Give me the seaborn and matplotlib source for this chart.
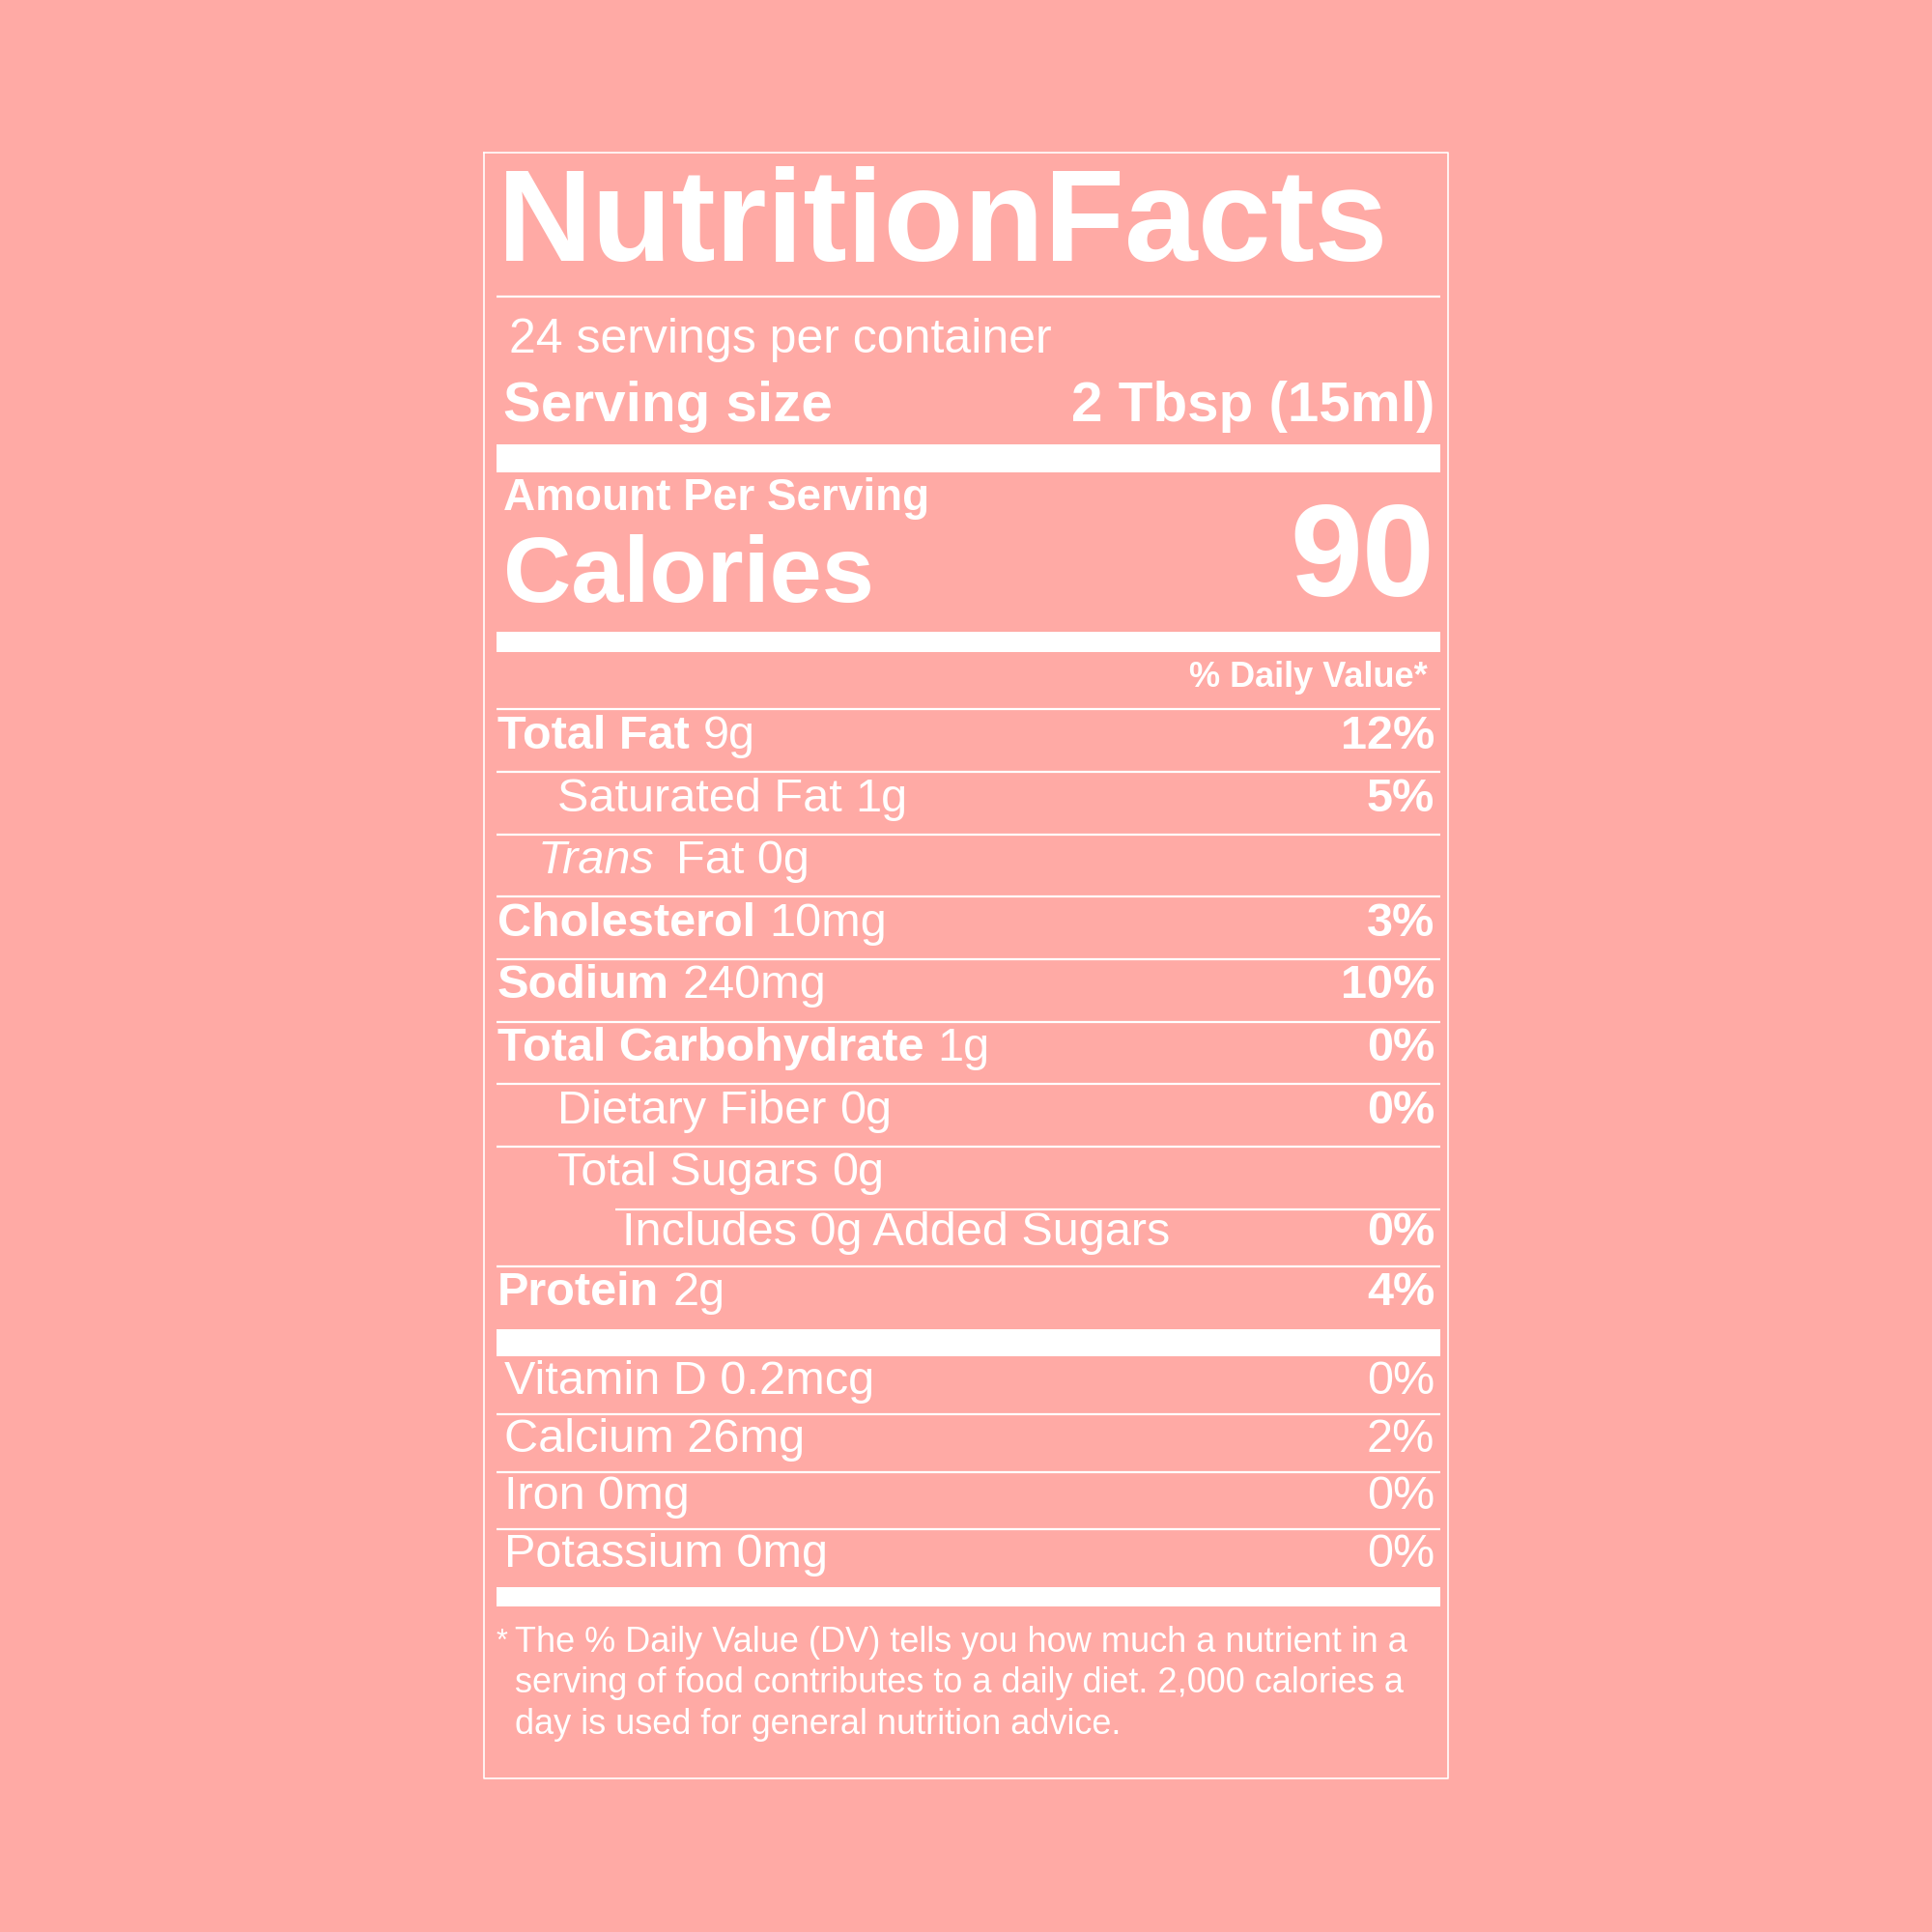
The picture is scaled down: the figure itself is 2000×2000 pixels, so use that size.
import matplotlib.pyplot as plt
import seaborn as sns

sns.set_theme(style="white", rc={"font.family": "Liberation Sans"})

BG = "#FFAAA5"
FG = "white"

servings = "24 servings per container"
serving_size = "2 Tbsp (15ml)"
calories = "90"

names = ["Total Fat", "Saturated Fat", "Trans", "Cholesterol", "Sodium",
         "Total Carbohydrate", "Dietary Fiber", "Total Sugars", "Includes 0g Added Sugars", "Protein"]
amounts = ["9g", "1g", "Fat 0g", "10mg", "240mg", "1g", "0g", "0g", "", "2g"]
daily = ["12%", "5%", "", "3%", "10%", "0%", "0%", "", "0%", "4%"]

vitamins = ["Vitamin D 0.2mcg", "Calcium 26mg", "Iron 0mg", "Potassium 0mg"]
vitamin_dv = ["0%", "2%", "0%", "0%"]

footnote = ["The % Daily Value (DV) tells you how much a nutrient in a",
            "serving of food contributes to a daily diet. 2,000 calories a",
            "day is used for general nutrition advice."]

# layout / style per nutrient row
name_style = ["bold", "normal", "italic", "bold", "bold", "bold", "normal", "normal", "normal", "bold"]
indent_x = [515, 577, 557, 515, 515, 515, 577, 577, 644, 515]
row_base = [775, 840, 904, 969, 1033, 1098, 1163, 1227, 1289, 1351]
row_lines = [734, 799, 864, 928, 993, 1058, 1122, 1187, 1252, 1311]
line_start = [514, 514, 514, 514, 514, 514, 514, 514, 637, 514]

fig = plt.figure(figsize=(20, 20), dpi=100, facecolor=BG)
ax = fig.add_axes([0, 0, 1, 1])
ax.set_facecolor(BG)
ax.set_xlim(0, 2000)
ax.set_ylim(2000, 0)
ax.axis("off")

L, R = 514, 1491


def rule(y, x0=L, lw=1.6):
    ax.plot([x0, R], [y, y], color=FG, lw=lw, solid_capstyle="butt")


def bar(y0, y1):
    ax.fill_between([L, R], y0, y1, color=FG, lw=0)


# outer box
ax.plot([501, 1499, 1499, 501, 501], [158, 158, 1841, 1841, 158], color=FG, lw=1.2)

ax.text(515, 270, "NutritionFacts", fontsize=98, fontweight="bold", color=FG, va="baseline")
rule(307)
ax.text(527, 365, servings, fontsize=36, color=FG, va="baseline")
ax.text(521, 436, "Serving size", fontsize=42, fontweight="bold", color=FG, va="baseline")
ax.text(1485, 436, serving_size, fontsize=42, fontweight="bold", color=FG, va="baseline", ha="right")
bar(460, 489)
ax.text(521, 528, "Amount Per Serving", fontsize=33, fontweight="bold", color=FG, va="baseline")
ax.text(521, 623, "Calories", fontsize=70, fontweight="bold", color=FG, va="baseline")
ax.text(1485, 617, calories, fontsize=97, fontweight="bold", color=FG, va="baseline", ha="right")
bar(654, 675)
ax.text(1478, 711, "% Daily Value*", fontsize=26, fontweight="bold", color=FG, va="baseline", ha="right")

for i, name in enumerate(names):
    rule(row_lines[i], line_start[i])
    style = name_style[i]
    t = ax.text(indent_x[i], row_base[i], name, fontsize=35, color=FG, va="baseline",
                fontweight="bold" if style == "bold" else "normal",
                fontstyle="italic" if style == "italic" else "normal")
    if amounts[i]:
        ax.annotate(amounts[i], xy=(1, 0), xycoords=t, xytext=(10 if style != "italic" else 16, 0),
                    textcoords="offset points", fontsize=35, color=FG, va="bottom")
    if daily[i]:
        ax.text(1485, row_base[i], daily[i], fontsize=35, fontweight="bold", color=FG,
                va="baseline", ha="right")

bar(1376, 1404)
vit_base = [1443, 1503, 1562, 1622]
for i, v in enumerate(vitamins):
    ax.text(522, vit_base[i], v, fontsize=35, color=FG, va="baseline")
    ax.text(1485, vit_base[i], vitamin_dv[i], fontsize=35, color=FG, va="baseline", ha="right")
    if i < len(vitamins) - 1:
        rule(vit_base[i] + 21)
bar(1643, 1663)

ax.text(514, 1708, "*", fontsize=22, color=FG, va="baseline")
for i, line in enumerate(footnote):
    ax.text(533, 1710 + i * 42.5, line, fontsize=26, color=FG, va="baseline")

fig.savefig("out.png", dpi=100, facecolor=BG)
